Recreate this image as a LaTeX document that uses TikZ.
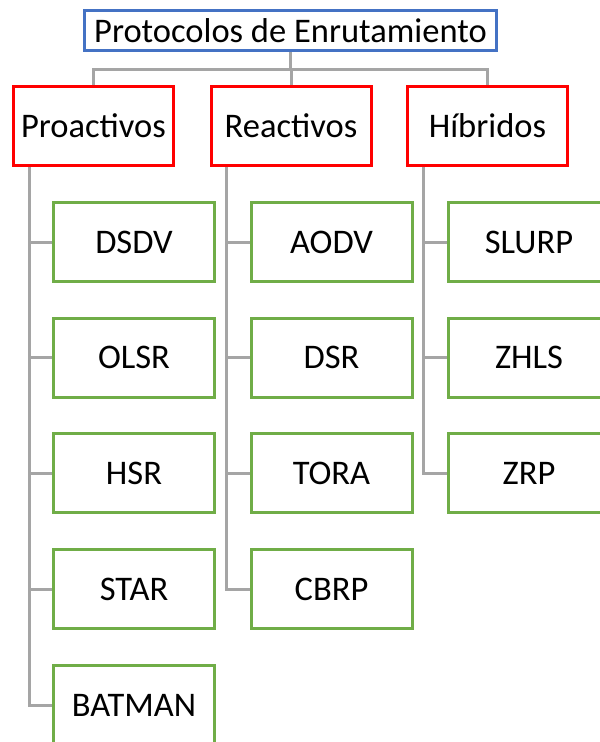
\documentclass[tikz,border=0pt]{standalone}
\usepackage{fontspec}
\setmainfont{Carlito}
\usetikzlibrary{calc}
\definecolor{topblue}{HTML}{4472C4}
\definecolor{catred}{HTML}{FF0000}
\definecolor{leafgreen}{HTML}{70AD47}
\definecolor{linkgray}{HTML}{A5A5A5}
\begin{document}
\begin{tikzpicture}[x=1pt,y=-1pt,
  boxbase/.style={draw, line width=3pt, fill=white, inner sep=0pt, align=center,
    font=\fontsize{34.5}{41}\selectfont},
  rootbox/.style={boxbase, draw=topblue, minimum width=412pt, minimum height=40pt},
  catbox/.style={boxbase, draw=catred, minimum width=160pt, minimum height=79pt},
  leafbox/.style={boxbase, draw=leafgreen, minimum width=161pt, minimum height=79pt},
  link/.style={draw=linkgray, line width=3pt}]
\useasboundingbox (0,0) rectangle (600,742);
\clip (0,0) rectangle (600,742);

% root
\node[rootbox] (root) at (290.5,30.5) {Protocolos de Enrutamiento};

% categories
\node[catbox] (pro) at (93.5,126) {Proactivos};
\node[catbox] (rea) at (291,126) {Reactivos};
\node[catbox] (hib) at (487.5,126) {Híbridos};

% leaves
\node[leafbox] (dsdv)   at (134,242)   {DSDV};
\node[leafbox] (olsr)   at (134,357.5) {OLSR};
\node[leafbox] (hsr)    at (134,473)   {HSR};
\node[leafbox] (star)   at (134,589)   {STAR};
\node[leafbox] (batman) at (134,705)   {BATMAN};

\node[leafbox] (aodv) at (331.5,242)   {AODV};
\node[leafbox] (dsr)  at (331.5,357.5) {DSR};
\node[leafbox] (tora) at (331.5,473)   {TORA};
\node[leafbox] (cbrp) at (331.5,589)   {CBRP};

\node[leafbox] (slurp) at (529,242)   {SLURP};
\node[leafbox] (zhls)  at (529,357.5) {ZHLS};
\node[leafbox] (zrp)   at (529,473)   {ZRP};

% root to categories
\coordinate (bus) at (0,69);
\draw[link] (root.south) -- (root.south |- bus);
\draw[link] (pro.north) -- (pro.north |- bus) -- (hib.north |- bus) -- (hib.north);
\draw[link] (rea.north |- bus) -- (rea.north);

% categories to leaves
\coordinate (prot) at ($(pro.south west)+(17,0)$);
\coordinate (reat) at ($(rea.south west)+(17,0)$);
\coordinate (hibt) at ($(hib.south west)+(17,0)$);
\foreach \leaf in {dsdv,olsr,hsr,star,batman}
  \draw[link] (prot) |- (\leaf.west);
\foreach \leaf in {aodv,dsr,tora,cbrp}
  \draw[link] (reat) |- (\leaf.west);
\foreach \leaf in {slurp,zhls,zrp}
  \draw[link] (hibt) |- (\leaf.west);
\end{tikzpicture}
\end{document}
